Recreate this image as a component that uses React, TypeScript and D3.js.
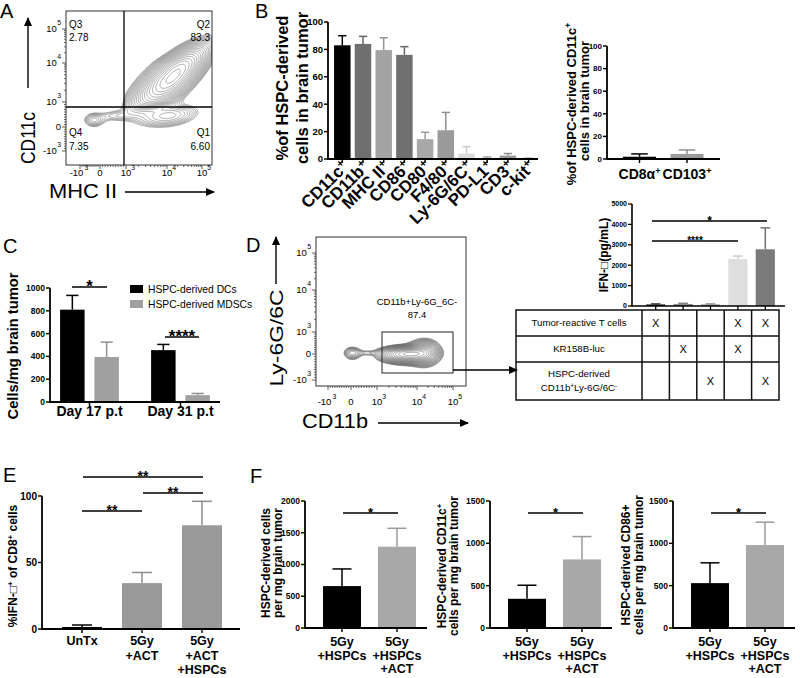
import React, { useMemo } from "react";
import * as d3 from "d3";

const SANS = "'Liberation Sans', Arial, Helvetica, sans-serif";

// ---------- flow cytometry axes (biexponential decades) ----------
const flowDecades = [-1, 0, 1, 2, 3];
const flowBase = ["-10", "0", "10", "10", "10"];
const flowExp = ["3", "", "3", "4", "5"];

// ---------- Panel A ----------
const aQuadLabels = ["Q3", "Q2", "Q4", "Q1"];
const aQuadValues = ["2.78", "83.3", "7.35", "6.60"];
// density components: [u, v, sdU, sdV, rho, amplitude]
const aDensity = [
  [2.18, 1.66, 0.5, 0.44, 0.75, 1.0],
  [2.05, 0.45, 0.5, 0.28, 0.3, 0.12],
  [0.6, 0.45, 0.42, 0.15, 0.0, 0.05],
  [-0.3, 0.28, 0.3, 0.17, 0.0, 0.1],
];

// ---------- Panel B ----------
const bMarkers = ["CD11c", "CD11b", "MHC II", "CD86", "CD80", "F4/80", "Ly-6G/6C", "PD-L1", "CD3", "c-kit"];
const bMeans = [83, 84, 79.5, 76, 14.5, 21, 4, 0.5, 2.5, 0.3];
const bErrs = [7, 5.5, 9, 6, 5, 13, 5, 1, 1.5, 0.3];
const bColors = ["#000000", "#6f6f6f", "#a3a3a3", "#707070", "#a8a8a8", "#9a9a9a", "#dcdcdc", "#b5b5b5", "#9a9a9a", "#aaaaaa"];
const bTicks = [0, 20, 40, 60, 80, 100];

const b2Markers = ["CD8α", "CD103"];
const b2Means = [2, 4.5];
const b2Errs = [2.5, 3.5];
const b2Colors = ["#000000", "#9a9a9a"];

// ---------- Panel C ----------
const cGroups = ["Day 17 p.t", "Day 31 p.t"];
const cSeries = ["HSPC-derived DCs", "HSPC-derived MDSCs"];
const cDCs = [810, 455];
const cDCsErr = [125, 50];
const cMDSCs = [395, 60];
const cMDSCsErr = [130, 15];
const cColors = ["#000000", "#a0a0a0"];
const cTicks = [0, 200, 400, 600, 800, 1000];

// ---------- Panel D ----------
const dGateName = "CD11b+Ly-6G_6C-";
const dGateValue = "87.4";
const dDensity = [
  [1.75, 0.0, 0.33, 0.17, 0.0, 1.0],
  [2.2, 0.1, 0.22, 0.27, 0.0, 0.45],
  [0.65, 0.05, 0.3, 0.08, 0.0, 0.05],
  [0.05, 0.05, 0.2, 0.15, 0.0, 0.15],
];
const ifnGroups = ["g1", "g2", "g3", "g4", "g5"];
const ifnMeans = [80, 100, 80, 2300, 2780];
const ifnErrs = [20, 30, 20, 150, 1050];
const ifnColors = ["#333333", "#8a8a8a", "#9a9a9a", "#dedede", "#7a7a7a"];
const ifnTicks = [0, 1000, 2000, 3000, 4000, 5000];
const tableRows = ["Tumor-reactive T cells", "KR158B-luc", "HSPC-derived"];
const tableMarks = [
  [1, 0, 0, 1, 1],
  [0, 1, 0, 1, 0],
  [0, 0, 1, 0, 1],
];

// ---------- Panel E ----------
const eGroups = [["UnTx"], ["5Gy", "+ACT"], ["5Gy", "+ACT", "+HSPCs"]];
const eMeans = [1.5, 34.5, 78];
const eErrs = [1.5, 8, 18];
const eColors = ["#000000", "#9a9a9a", "#9a9a9a"];
const eTicks = [0, 50, 100];

// ---------- Panel F ----------
const fGroups = [["5Gy", "+HSPCs"], ["5Gy", "+HSPCs", "+ACT"]];
const f1Means = [660, 1280];
const f1Errs = [270, 290];
const f2Means = [345, 810];
const f2Errs = [160, 270];
const f3Means = [530, 980];
const f3Errs = [240, 270];
const fColors = ["#000000", "#a8a8a8"];
const fTicks2000 = [0, 500, 1000, 1500, 2000];
const fTicks1500 = [0, 500, 1000, 1500];

// ================= helpers =================
function densityPaths(
  comps: number[][],
  xs: d3.ScaleLinear<number, number>,
  ys: d3.ScaleLinear<number, number>,
  fx: number, fy: number, fw: number, fh: number,
  levels: number, lo: number
) {
  const n = fw, m = fh;
  const values = new Array(n * m);
  for (let j = 0; j < m; j++) {
    const v = ys.invert(fy + j + 0.5);
    for (let i = 0; i < n; i++) {
      const u = xs.invert(fx + i + 0.5);
      let s = 0;
      for (const c of comps) {
        const [cu, cv, sx, sy, rho, a] = c;
        const dx = (u - cu) / sx, dy = (v - cv) / sy;
        const q = (dx * dx - 2 * rho * dx * dy + dy * dy) / (1 - rho * rho);
        s += a * Math.exp(-0.5 * q);
      }
      values[j * n + i] = s;
    }
  }
  const max = d3.max(values) as number;
  const th = d3.range(levels).map((k) => max * lo * Math.pow(0.92 / lo, k / (levels - 1)));
  const cs = d3.contours().size([n, m]).thresholds(th)(values);
  const p = d3.geoPath();
  return cs.map((c) => p(c) || "");
}

function Sup({ t, fs }: { t: string; fs: number }) {
  return (
    <tspan baselineShift="super" fontSize={fs * 0.65}>{t}</tspan>
  );
}

function VText(props: { x: number; y: number; fs: number; bold?: boolean; children: any; len?: number }) {
  return (
    <text
      transform={`translate(${props.x},${props.y}) rotate(-90)`}
      textAnchor="middle"
      fontSize={props.fs}
      fontWeight={props.bold ? "bold" : "normal"}
      textLength={props.len}
      lengthAdjust={props.len ? "spacingAndGlyphs" : undefined}
    >
      {props.children}
    </text>
  );
}

function Arrow({ x1, y1, x2, y2, w = 1.4 }: { x1: number; y1: number; x2: number; y2: number; w?: number }) {
  return <line x1={x1} y1={y1} x2={x2} y2={y2} stroke="#000" strokeWidth={w} markerEnd="url(#ah)" />;
}

function Sig({ x1, x2, y, label, fs }: { x1: number; x2: number; y: number; label: string; fs: number }) {
  return (
    <g>
      <line x1={x1} x2={x2} y1={y} y2={y} stroke="#000" strokeWidth={1.6} />
      <text x={(x1 + x2) / 2} y={y + fs * 0.3} textAnchor="middle" fontSize={fs} fontWeight="bold">{label}</text>
    </g>
  );
}

type BarCfg = {
  x0: number;
  x1: number;
  y: d3.ScaleLinear<number, number>;
  ticks: number[];
  tickFs: number;
  centers: number[];
  bw: number;
  vals: number[];
  errs: number[];
  colors: string[];
  lw?: number;
  noXTicks?: boolean;
};

function BarChart(c: BarCfg) {
  const y0 = c.y(0);
  const lw = c.lw ?? 1.8;
  const cap = c.bw * 0.5;
  const yTop = c.y(c.ticks[c.ticks.length - 1]);
  return (
    <g>
      {c.vals.map((v, i) => {
        const cx = c.centers[i];
        const top = c.y(v);
        const et = c.y(v + c.errs[i]);
        const col = c.colors[i];
        const ec = (d3.color(col) as d3.RGBColor).darker(0.25).formatHex();
        return (
          <g key={i}>
            <line x1={cx} x2={cx} y1={top} y2={et} stroke={ec} strokeWidth={1.5} />
            <line x1={cx - cap / 2} x2={cx + cap / 2} y1={et} y2={et} stroke={ec} strokeWidth={1.5} />
            <rect x={cx - c.bw / 2} y={top} width={c.bw} height={Math.max(0, y0 - top)} fill={col} />
          </g>
        );
      })}
      <line x1={c.x0} x2={c.x0} y1={y0 + lw / 2} y2={yTop} stroke="#000" strokeWidth={lw} />
      <line x1={c.x0} x2={c.x1} y1={y0} y2={y0} stroke="#000" strokeWidth={lw} />
      {c.ticks.map((t) => (
        <g key={t}>
          <line x1={c.x0 - 4} x2={c.x0} y1={c.y(t)} y2={c.y(t)} stroke="#000" strokeWidth={lw * 0.8} />
          <text x={c.x0 - 5} y={c.y(t)} dy="0.35em" textAnchor="end" fontSize={c.tickFs} fontWeight="bold">{t}</text>
        </g>
      ))}
      {!c.noXTicks &&
        c.centers.map((cx, i) => (
          <line key={i} x1={cx} x2={cx} y1={y0} y2={y0 + 4} stroke="#000" strokeWidth={lw * 0.8} />
        ))}
    </g>
  );
}

function FlowAxes({
  xs, ys, fx, fy, fw, fh, fs, labOff,
}: {
  xs: d3.ScaleLinear<number, number>; ys: d3.ScaleLinear<number, number>;
  fx: number; fy: number; fw: number; fh: number; fs: number; labOff: number;
}) {
  const minor: number[] = [];
  for (let d = 1; d < 3; d++) for (let k = 2; k <= 9; k++) minor.push(d + Math.log10(k));
  for (let k = 1; k <= 9; k++) { minor.push(k / 10); minor.push(-k / 10); }
  const bottom = fy + fh;
  return (
    <g fontSize={fs}>
      <rect x={fx} y={fy} width={fw} height={fh} fill="none" stroke="#333" strokeWidth={1} />
      {minor.map((m, i) => (
        <g key={i}>
          <line x1={xs(m)} x2={xs(m)} y1={bottom} y2={bottom + 2} stroke="#333" strokeWidth={0.7} />
          <line x1={fx - 2} x2={fx} y1={ys(m)} y2={ys(m)} stroke="#333" strokeWidth={0.7} />
        </g>
      ))}
      {flowDecades.map((d, i) => {
        const w = flowBase[i].length * fs * 0.556;
        const hasExp = flowExp[i].length > 0;
        const sh = d < 0 ? 3.5 : 0;
        return (
          <g key={d}>
            <line x1={xs(d)} x2={xs(d)} y1={bottom} y2={bottom + 4} stroke="#333" strokeWidth={0.8} />
            <line x1={fx - 4} x2={fx} y1={ys(d)} y2={ys(d)} stroke="#333" strokeWidth={0.8} />
            <text x={xs(d) - sh} y={bottom + labOff} textAnchor="middle">{flowBase[i]}</text>
            {hasExp && <text x={xs(d) + w / 2 - sh} y={bottom + labOff - 6} fontSize={fs * 0.72}>{flowExp[i]}</text>}
            <text x={fx - 5 - (hasExp ? fs * 0.45 : 0)} y={ys(d)} dy="0.35em" textAnchor="end">{flowBase[i]}</text>
            {hasExp && <text x={fx - 5} y={ys(d) - 4} textAnchor="end" fontSize={fs * 0.72}>{flowExp[i]}</text>}
          </g>
        );
      })}
    </g>
  );
}

export default function App() {
  // ----- Panel A scales -----
  const aX = d3.scaleLinear().domain(flowDecades).range([80, 100, 126, 167, 202]);
  const aY = d3.scaleLinear().domain(flowDecades).range([151, 127, 102, 63, 29]);
  const aF = { x: 66, y: 11, w: 146, h: 154 };
  // ----- Panel D flow scales -----
  const dX = d3.scaleLinear().domain(flowDecades).range([328, 351, 377, 417, 453]);
  const dY = d3.scaleLinear().domain(flowDecades).range([380, 354, 332, 290, 253]);
  const dF = { x: 316, y: 237, w: 150, h: 149 };

  const aPaths = useMemo(() => densityPaths(aDensity, aX, aY, aF.x, aF.y, aF.w, aF.h, 22, 0.03), []);
  const dPaths = useMemo(() => densityPaths(dDensity, dX, dY, dF.x, dF.y, dF.w, dF.h, 20, 0.03), []);

  // ----- Panel B -----
  const yB = d3.scaleLinear().domain([0, 100]).range([159, 22]);
  const xB = d3.scalePoint<string>().domain(bMarkers).range([342.3, 528.6]);
  const yB2 = d3.scaleLinear().domain([0, 100]).range([159, 46]);
  const xB2 = d3.scalePoint<string>().domain(b2Markers).range([639.5, 687]);

  // ----- Panel C -----
  const yC = d3.scaleLinear().domain([0, 1000]).range([402, 288]);
  const xC = d3.scalePoint<string>().domain(cGroups).range([89.5, 180.5]);
  const xCs = d3.scaleBand<string>().domain(cSeries).range([-29.5, 29.5]).paddingInner(0.28);
  const cCenters = cGroups.flatMap((g) => cSeries.map((s) => (xC(g) as number) + (xCs(s) as number) + xCs.bandwidth() / 2));
  const cVals = cGroups.flatMap((_, i) => [cDCs[i], cMDSCs[i]]);
  const cErr = cGroups.flatMap((_, i) => [cDCsErr[i], cMDSCsErr[i]]);
  const cCols = cGroups.flatMap(() => cColors);

  // ----- Panel D IFN + table -----
  const yI = d3.scaleLinear().domain([0, 5000]).range([306, 204]);
  const tCols = d3.scaleBand<string>().domain(ifnGroups).range([642, 779]);
  const ifnCenters = ifnGroups.map((g) => (tCols(g) as number) + tCols.bandwidth() / 2);
  const tRowsY = [310, 336, 362, 400];

  // ----- Panel E -----
  const yE = d3.scaleLinear().domain([0, 100]).range([629, 496]);
  const xE = d3.scalePoint<number>().domain(eMeans.map((_, i) => i)).range([82, 202]);

  // ----- Panel F -----
  const yF1 = d3.scaleLinear().domain([0, 2000]).range([628, 501]);
  const yF2 = d3.scaleLinear().domain([0, 1500]).range([628, 501]);
  const fAxes = [305, 490, 673];
  const fCenters = (ax: number) => d3.scalePoint<number>().domain([0, 1]).range([ax + 37, ax + 92]);

  return (
    <div style={{ position: "absolute", left: 0, top: 0 }}>
      <svg width={800} height={678} fontFamily={SANS} style={{ display: "block", background: "#fff" }}>
        <defs>
          <marker id="ah" markerWidth={9} markerHeight={8} refX={8} refY={4} orient="auto" markerUnits="userSpaceOnUse">
            <path d="M0,0 L9,4 L0,8 z" fill="#000" />
          </marker>
          <clipPath id="clipA"><rect x={aF.x} y={aF.y} width={aF.w} height={aF.h} /></clipPath>
          <clipPath id="clipD"><rect x={dF.x} y={dF.y} width={dF.w} height={dF.h} /></clipPath>
        </defs>

        {/* ================= Panel A ================= */}
        <text x={0} y={18} fontSize={20}>A</text>
        <g clipPath="url(#clipA)">
          <g transform={`translate(${aF.x},${aF.y})`}>
            {aPaths.map((d, i) => (
              <path key={i} d={d} fill="none" stroke="#6a6a6a" strokeWidth={0.55} />
            ))}
          </g>
        </g>
        <FlowAxes xs={aX} ys={aY} fx={aF.x} fy={aF.y} fw={aF.w} fh={aF.h} fs={9.5} labOff={11} />
        <line x1={124} x2={124} y1={aF.y} y2={aF.y + aF.h} stroke="#000" strokeWidth={1.3} />
        <line x1={aF.x} x2={aF.x + aF.w} y1={107} y2={107} stroke="#000" strokeWidth={1.3} />
        <g fontSize={10}>
          <text x={69} y={28}>{aQuadLabels[0]}</text>
          <text x={69} y={41}>{aQuadValues[0]}</text>
          <text x={210} y={28} textAnchor="end">{aQuadLabels[1]}</text>
          <text x={210} y={41} textAnchor="end">{aQuadValues[1]}</text>
          <text x={69} y={136}>{aQuadLabels[2]}</text>
          <text x={69} y={150}>{aQuadValues[2]}</text>
          <text x={210} y={136} textAnchor="end">{aQuadLabels[3]}</text>
          <text x={210} y={150} textAnchor="end">{aQuadValues[3]}</text>
        </g>
        <VText x={35} y={138} fs={20} len={52}>CD11c</VText>
        <Arrow x1={28} y1={88} x2={28} y2={18} />
        <text x={49} y={198} fontSize={19.5} textLength={68} lengthAdjust="spacingAndGlyphs">MHC II</text>
        <Arrow x1={125} y1={192} x2={214} y2={192} />

        {/* ================= Panel B ================= */}
        <text x={255} y={18} fontSize={20}>B</text>
        <BarChart x0={328} x1={538} y={yB} ticks={bTicks} tickFs={9.5} centers={bMarkers.map((m) => xB(m) as number)} bw={16.5} vals={bMeans} errs={bErrs} colors={bColors} />
        {bMarkers.map((m) => (
          <text key={m} transform={`translate(${(xB(m) as number) + 7},${168}) rotate(-45)`} textAnchor="end" fontSize={17} fontWeight="bold">
            {m}
            <Sup t="+" fs={17} />
          </text>
        ))}
        <VText x={288} y={88} fs={16.5} bold>%of HSPC-derived</VText>
        <VText x={308} y={88} fs={16.5} bold>cells in brain tumor</VText>

        <BarChart x0={607} x1={720} y={yB2} ticks={bTicks} tickFs={8} centers={b2Markers.map((m) => xB2(m) as number)} bw={33} vals={b2Means} errs={b2Errs} colors={b2Colors} />
        {b2Markers.map((m) => (
          <text key={m} x={xB2(m) as number} y={179} textAnchor="middle" fontSize={14} fontWeight="bold">
            {m}
            <Sup t="+" fs={14} />
          </text>
        ))}
        <VText x={576} y={104} fs={13} bold>
          %of HSPC-derived CD11c<Sup t="+" fs={13} />
        </VText>
        <VText x={589} y={101} fs={13} bold>cells in brain tumor</VText>

        {/* ================= Panel C ================= */}
        <text x={3} y={253} fontSize={20}>C</text>
        <BarChart x0={50} x1={220} y={yC} ticks={cTicks} tickFs={8.5} centers={cCenters} bw={24.5} vals={cVals} errs={cErr} colors={cCols} noXTicks />
        {cGroups.map((g) => (
          <g key={g}>
            <line x1={xC(g) as number} x2={xC(g) as number} y1={402} y2={406} stroke="#000" strokeWidth={1.5} />
            <text x={xC(g) as number} y={416} textAnchor="middle" fontSize={14} fontWeight="bold">{g}</text>
          </g>
        ))}
        <VText x={18} y={346} fs={14.7} bold>Cells/mg brain tumor</VText>
        <Sig x1={72} x2={107} y={287} label="*" fs={17} />
        <Sig x1={165} x2={199} y={337} label="****" fs={17} />
        {cSeries.map((s, i) => (
          <g key={s}>
            <rect x={130} y={285 + i * 15} width={13} height={8} fill={cColors[i]} />
            <text x={148} y={293 + i * 15} fontSize={10.3}>{s}</text>
          </g>
        ))}

        {/* ================= Panel D ================= */}
        <text x={246} y={252} fontSize={20}>D</text>
        <g clipPath="url(#clipD)">
          <g transform={`translate(${dF.x},${dF.y})`}>
            {dPaths.map((d, i) => (
              <path key={i} d={d} fill="none" stroke="#5a5a5a" strokeWidth={0.55} />
            ))}
          </g>
        </g>
        <FlowAxes xs={dX} ys={dY} fx={dF.x} fy={dF.y} fw={dF.w} fh={dF.h} fs={9.5} labOff={19} />
        <rect x={382} y={332} width={71} height={41} fill="none" stroke="#222" strokeWidth={1} />
        <text x={417} y={305} textAnchor="middle" fontSize={9.5}>{dGateName}</text>
        <text x={417} y={318} textAnchor="middle" fontSize={9.5}>{dGateValue}</text>
        <Arrow x1={276} y1={284} x2={276} y2={237} />
        <VText x={283} y={338} fs={19} len={97}>Ly-6G/6C</VText>
        <text x={302} y={428} fontSize={20} textLength={66} lengthAdjust="spacingAndGlyphs">CD11b</text>
        <Arrow x1={378} y1={423} x2={468} y2={423} />
        <Arrow x1={453} y1={370} x2={517} y2={370} />

        {/* IFN chart */}
        <BarChart x0={632} x1={785} y={yI} ticks={ifnTicks} tickFs={7} centers={ifnCenters} bw={tCols.bandwidth() * 0.7} vals={ifnMeans} errs={ifnErrs} colors={ifnColors} lw={1.6} />
        <Sig x1={652} x2={767} y={221} label="*" fs={12} />
        <Sig x1={652} x2={738} y={241} label="****" fs={10} />
        <VText x={608} y={255} fs={12} bold>IFN-□(pg/mL)</VText>

        {/* table */}
        <g stroke="#111" strokeWidth={1.5} fill="none">
          <rect x={516} y={tRowsY[0]} width={779 - 516} height={tRowsY[3] - tRowsY[0]} />
          {tRowsY.slice(1, 3).map((y) => (
            <line key={y} x1={516} x2={779} y1={y} y2={y} />
          ))}
          {ifnGroups.map((g) => (
            <line key={g} x1={tCols(g) as number} x2={tCols(g) as number} y1={tRowsY[0]} y2={tRowsY[3]} />
          ))}
        </g>
        <g fontSize={9.7} textAnchor="middle">
          <text x={579} y={326}>{tableRows[0]}</text>
          <text x={579} y={352}>{tableRows[1]}</text>
          <text x={579} y={377}>{tableRows[2]}</text>
          <text x={579} y={391}>
            CD11b<Sup t="+" fs={9.7} />Ly-6G/6C<Sup t="-" fs={9.7} />
          </text>
          {tableMarks.map((row, r) =>
            row.map((mk, k) =>
              mk ? (
                <text key={`${r}-${k}`} x={ifnCenters[k]} y={(tRowsY[r] + tRowsY[r + 1]) / 2 + 4} fontSize={11}>X</text>
              ) : null
            )
          )}
        </g>

        {/* ================= Panel E ================= */}
        <text x={3} y={482} fontSize={20}>E</text>
        <BarChart x0={42} x1={240} y={yE} ticks={eTicks} tickFs={10} centers={eMeans.map((_, i) => xE(i) as number)} bw={40} vals={eMeans} errs={eErrs} colors={eColors} />
        {eGroups.map((lines, i) => (
          <text key={i} x={xE(i) as number} textAnchor="middle" fontSize={12.5} fontWeight="bold">
            {lines.map((l, k) => (
              <tspan key={k} x={xE(i) as number} y={645 + k * 14.5}>{l}</tspan>
            ))}
          </text>
        ))}
        <VText x={17} y={566} fs={12} bold>
          %IFN-□<Sup t="+" fs={12} /> of CD8<Sup t="+" fs={12} /> cells
        </VText>
        <Sig x1={83} x2={203} y={477} label="**" fs={14} />
        <Sig x1={143} x2={203} y={493} label="**" fs={14} />
        <Sig x1={82} x2={142} y={511} label="**" fs={14} />

        {/* ================= Panel F ================= */}
        <text x={250} y={483} fontSize={20}>F</text>
        {[
          { ax: fAxes[0], y: yF1, ticks: fTicks2000, m: f1Means, e: f1Errs },
          { ax: fAxes[1], y: yF2, ticks: fTicks1500, m: f2Means, e: f2Errs },
          { ax: fAxes[2], y: yF2, ticks: fTicks1500, m: f3Means, e: f3Errs },
        ].map((cfg, ci) => {
          const xs = fCenters(cfg.ax);
          const centers = [xs(0) as number, xs(1) as number];
          return (
            <g key={ci}>
              <BarChart x0={cfg.ax} x1={cfg.ax + 122} y={cfg.y} ticks={cfg.ticks} tickFs={8.5} centers={centers} bw={38} vals={cfg.m} errs={cfg.e} colors={fColors} />
              {fGroups.map((lines, i) => (
                <text key={i} textAnchor="middle" fontSize={12.5} fontWeight="bold">
                  {lines.map((l, k) => (
                    <tspan key={k} x={centers[i]} y={646 + k * 13.5}>{l}</tspan>
                  ))}
                </text>
              ))}
              <Sig x1={centers[0] + 1} x2={centers[1] + 1} y={513} label="*" fs={13} />
            </g>
          );
        })}
        <VText x={270} y={563} fs={12} bold>HSPC-derived cells</VText>
        <VText x={282} y={563} fs={12} bold>per mg brain tumor</VText>
        <VText x={446} y={566} fs={12} bold>
          HSPC-derived CD11c<Sup t="+" fs={12} />
        </VText>
        <VText x={458} y={566} fs={12} bold>cells per mg brain tumor</VText>
        <VText x={630} y={565} fs={12} bold>HSPC-derived CD86+</VText>
        <VText x={643} y={565} fs={12} bold>cells per mg brain tumor</VText>
      </svg>
    </div>
  );
}
